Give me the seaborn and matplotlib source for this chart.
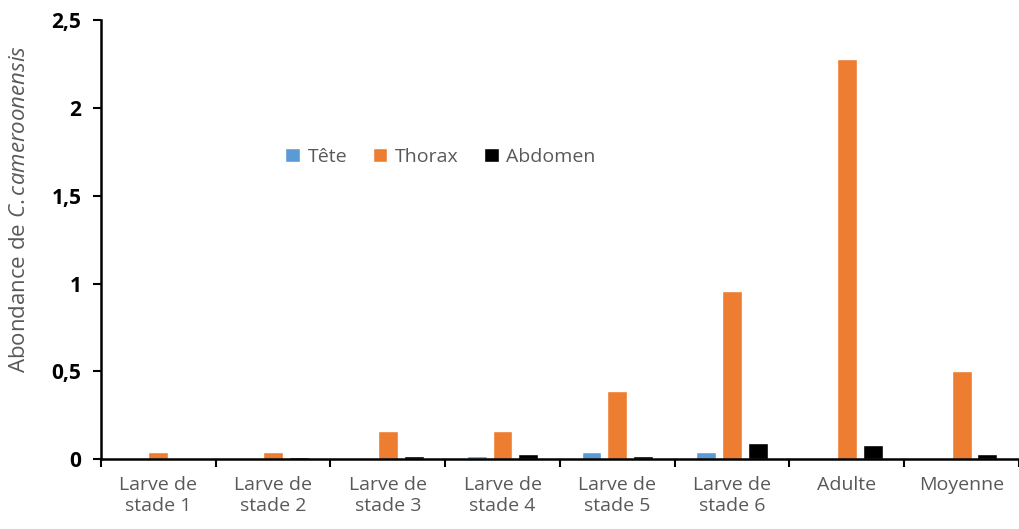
import matplotlib
matplotlib.use("Agg")
import matplotlib.pyplot as plt
import seaborn as sns
import pandas as pd
import numpy as np

categories = ["Larve de\nstade 1", "Larve de\nstade 2", "Larve de\nstade 3", "Larve de\nstade 4",
              "Larve de\nstade 5", "Larve de\nstade 6", "Adulte", "Moyenne"]
tete = [0.002, 0.0, 0.005, 0.02, 0.04, 0.04, 0.005, 0.005]
thorax = [0.04, 0.04, 0.16, 0.16, 0.39, 0.96, 2.28, 0.50]
abdomen = [0.0, 0.01, 0.02, 0.03, 0.02, 0.09, 0.08, 0.03]
parts = ["Tête", "Thorax", "Abdomen"]
colors = ["#5B9BD5", "#ED7D31", "#000000"]

df = pd.DataFrame({
    "cat": categories * 3,
    "part": [parts[0]] * 8 + [parts[1]] * 8 + [parts[2]] * 8,
    "val": tete + thorax + abdomen,
})

sns.set_style("white")
plt.rcParams["font.family"] = ["Open Sans", "DejaVu Sans"]
plt.rcParams["mathtext.fontset"] = "custom"
plt.rcParams["mathtext.it"] = "Open Sans:italic"
plt.rcParams["mathtext.rm"] = "Open Sans"

fig = plt.figure(figsize=(10.19, 5.29), dpi=100)
ax = fig.add_axes([0.099, 0.132, 0.901, 0.830])

sns.barplot(data=df, x="cat", y="val", hue="part", palette=colors, width=0.675, gap=0.23,
            saturation=1, ax=ax, legend=True)

ax.set_xlim(-0.5, 7.43)
ax.set_ylim(0, 2.5)
ax.set_yticks([0, 0.5, 1, 1.5, 2, 2.5])
ax.set_yticklabels(["0", "0,5", "1", "1,5", "2", "2,5"], fontsize=15, fontweight="bold", color="black")
ax.set_xticks(range(8))
ax.set_xticklabels(categories, fontsize=14, color="#595959", linespacing=1.25)
ax.set_xticks(np.arange(-0.5, 7.6, 1), minor=True)
ax.tick_params(axis="x", which="major", length=0, pad=12)
ax.tick_params(axis="x", which="minor", length=6, width=1.5, direction="out", color="black", bottom=True)
ax.tick_params(axis="y", length=6, width=1.5, direction="out", color="black", left=True, pad=8)

ax.set_xlabel("")
ax.set_ylabel(r"Abondance de $\mathit{C.cameroonensis}$", fontsize=16, color="#595959")
ax.yaxis.set_label_coords(-0.077, 0.57)

for s in ["top", "right"]:
    ax.spines[s].set_visible(False)
for s in ["left", "bottom"]:
    ax.spines[s].set_color("black")
    ax.spines[s].set_linewidth(1.8)

leg = ax.legend(loc="center", bbox_to_anchor=(0.37, 0.688), ncol=3, frameon=False,
                fontsize=14, handlelength=0.75, handleheight=0.75, columnspacing=1.3, handletextpad=0.4)
for t in leg.get_texts():
    t.set_color("#595959")

fig.savefig("out.png", dpi=100)
